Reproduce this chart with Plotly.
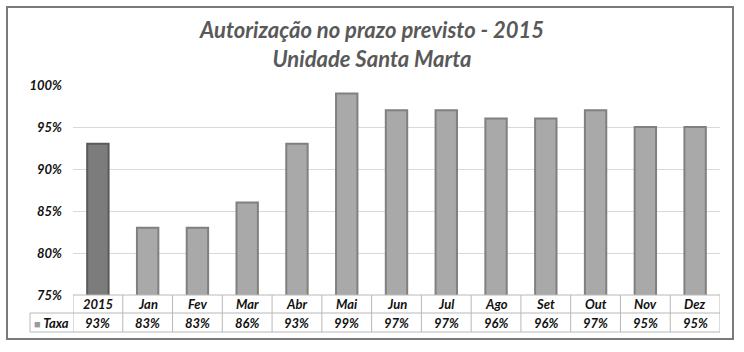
import plotly.graph_objects as go

categories = ["2015", "Jan", "Fev", "Mar", "Abr", "Mai", "Jun", "Jul", "Ago", "Set", "Out", "Nov", "Dez"]
taxa = [0.93, 0.83, 0.83, 0.86, 0.93, 0.99, 0.97, 0.97, 0.96, 0.96, 0.97, 0.95, 0.95]
value_labels = ["93%", "83%", "83%", "86%", "93%", "99%", "97%", "97%", "96%", "96%", "97%", "95%", "95%"]
y_ticks = [0.75, 0.80, 0.85, 0.90, 0.95, 1.00]
series_name = "Taxa"
title_lines = ["Autorização no prazo previsto - 2015", "Unidade Santa Marta"]

FONT = "Lato"
bar_colors = ["#7c7c7c"] + ["#a9a9a9"] * (len(categories) - 1)
bar_lines = ["#5a5a5a"] + ["#808080"] * (len(categories) - 1)

fig = go.Figure()
fig.add_trace(go.Bar(
    x=categories, y=taxa, name=series_name,
    marker=dict(color=bar_colors, line=dict(color=bar_lines, width=2)),
    width=0.43, showlegend=False, hoverinfo="skip",
))

# plot area geometry in pixels
L, R, T, B = 73, 720, 85, 295
W, H = R - L, B - T
def px_x(px):
    return (px - L) / W
def px_y(py):
    return (B - py) / H

shapes = []
line_col = "#b8b8b8"
row_mid = px_y(313)
row_bot = px_y(332)
leg_left = px_x(30)
# horizontal table lines
shapes.append(dict(type="line", xref="paper", yref="paper", x0=0, x1=1, y0=0, y1=0,
                   line=dict(color=line_col, width=1)))
shapes.append(dict(type="line", xref="paper", yref="paper", x0=leg_left, x1=1, y0=row_mid, y1=row_mid,
                   line=dict(color=line_col, width=1)))
shapes.append(dict(type="line", xref="paper", yref="paper", x0=leg_left, x1=1, y0=row_bot, y1=row_bot,
                   line=dict(color=line_col, width=1)))
# vertical table lines, on category boundaries
for i in range(len(categories) + 1):
    shapes.append(dict(type="line", xref="x", yref="paper", x0=i - 0.5, x1=i - 0.5, y0=0, y1=row_bot,
                       line=dict(color=line_col, width=1)))
shapes.append(dict(type="line", xref="paper", yref="paper", x0=leg_left, x1=leg_left, y0=row_mid, y1=row_bot,
                   line=dict(color=line_col, width=1)))
# outer frame
shapes.append(dict(type="rect", xref="paper", yref="paper",
                   x0=px_x(7), x1=px_x(733), y0=px_y(339), y1=px_y(7),
                   line=dict(color="#7a7a7a", width=2)))

annotations = []
cell_font = dict(family=FONT, size=13, color="#111111", weight="bold", style="italic")
for i, (c, v) in enumerate(zip(categories, value_labels)):
    annotations.append(dict(x=i, xref="x", y=(0 + row_mid) / 2, yref="paper", text=c,
                            showarrow=False, font=cell_font, xanchor="center", yanchor="middle"))
    annotations.append(dict(x=i, xref="x", y=(row_mid + row_bot) / 2, yref="paper", text=v,
                            showarrow=False, font=cell_font, xanchor="center", yanchor="middle"))
annotations.append(dict(x=(leg_left + 0) / 2, xref="paper", y=(row_mid + row_bot) / 2, yref="paper",
                        text="<span style='color:#9a9a9a;font-size:11px'>■</span> " + series_name,
                        showarrow=False, font=cell_font, xanchor="center", yanchor="middle"))

fig.update_layout(
    width=744, height=352,
    margin=dict(l=L, r=744 - R, t=T, b=352 - B),
    paper_bgcolor="white", plot_bgcolor="white",
    title=dict(text="<br>".join(title_lines), x=0.5, xref="container", xanchor="center",
               y=1 - 38 / 352, yref="container", yanchor="middle",
               font=dict(family=FONT, size=22, color="#595959", weight="bold", style="italic")),
    xaxis=dict(type="category", range=[-0.5, len(categories) - 0.5], showticklabels=False, ticks="",
               showgrid=False, zeroline=False, showline=False),
    yaxis=dict(range=[0.75, 1.0], tickvals=y_ticks, tickformat=".0%", showgrid=True,
               gridcolor="#d9d9d9", gridwidth=1, zeroline=False, showline=False, ticks="",
               ticklabelstandoff=10,
               tickfont=dict(family=FONT, size=13, color="#111111", weight="bold", style="italic")),
    shapes=shapes, annotations=annotations, bargap=0.57,
)

fig.write_html("out.html")
